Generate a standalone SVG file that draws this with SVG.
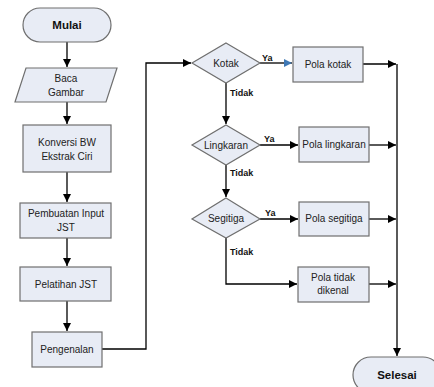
<svg xmlns="http://www.w3.org/2000/svg" width="434" height="387" viewBox="0 0 434 387">
<defs>
<marker id="ah" viewBox="0 0 10 10" refX="10" refY="5" markerWidth="9" markerHeight="8" markerUnits="userSpaceOnUse" orient="auto"><path d="M0,0 L10,5 L0,10 z" fill="#000"/></marker>
<marker id="ahb" viewBox="0 0 10 10" refX="10" refY="5" markerWidth="9" markerHeight="8" markerUnits="userSpaceOnUse" orient="auto"><path d="M0,0 L10,5 L0,10 z" fill="#3f78b5"/></marker>
<style>
.n{fill:#e8ecf5;stroke:#6f6f6f;stroke-width:1.2}
.t{font-family:"Liberation Sans",Arial,sans-serif;font-size:10px;fill:#222;text-anchor:middle}
.b{font-family:"Liberation Sans",Arial,sans-serif;font-weight:bold;font-size:11.5px;fill:#111;text-anchor:middle}
.l{font-family:"Liberation Sans",Arial,sans-serif;font-weight:bold;font-size:9px;fill:#111}
.c{fill:none;stroke:#000;stroke-width:1.3}
</style>
</defs>
<rect width="434" height="387" fill="#fff"/>
<g id="connectors">
<path class="c" d="M67,42 V67" marker-end="url(#ah)"/>
<path class="c" d="M67,102 V124" marker-end="url(#ah)"/>
<path class="c" d="M67,172 V202" marker-end="url(#ah)"/>
<path class="c" d="M67,238 V266" marker-end="url(#ah)"/>
<path class="c" d="M67,301 V331" marker-end="url(#ah)"/>
<path class="c" d="M102,349 H146 V63 H191" marker-end="url(#ah)"/>
<path class="c" d="M260,63 H292" marker-end="url(#ahb)"/>
<path class="c" d="M363,64 H396" marker-end="url(#ah)"/>
<path class="c" d="M226,83 V124" marker-end="url(#ah)"/>
<path class="c" d="M260,145 H298" marker-end="url(#ah)"/>
<path class="c" d="M369,145 H396" marker-end="url(#ah)"/>
<path class="c" d="M226,165 V197" marker-end="url(#ah)"/>
<path class="c" d="M260,219 H298" marker-end="url(#ah)"/>
<path class="c" d="M369,219 H396" marker-end="url(#ah)"/>
<path class="c" d="M226,238 V284 H297" marker-end="url(#ah)"/>
<path class="c" d="M369,284 H396" marker-end="url(#ah)"/>
<path class="c" d="M397,64 V356" marker-end="url(#ah)"/>
<text class="l" x="262" y="61">Ya</text>
<text class="l" x="230" y="96">Tidak</text>
<text class="l" x="264" y="142">Ya</text>
<text class="l" x="230" y="176">Tidak</text>
<text class="l" x="265" y="216">Ya</text>
<text class="l" x="230" y="255">Tidak</text>
</g>
<g id="mulai"><rect class="n" x="23" y="8" width="88" height="34" rx="17"/><text class="b" x="67" y="29">Mulai</text></g>
<g id="baca"><polygon class="n" points="26,68 117,68 106,102 15,102"/><text class="t" x="66" y="82">Baca</text><text class="t" x="66" y="96">Gambar</text></g>
<g id="konversi"><rect class="n" x="23" y="125" width="88" height="47"/><text class="t" x="67" y="146">Konversi BW</text><text class="t" x="67" y="160">Ekstrak Ciri</text></g>
<g id="pembuatan"><rect class="n" x="20" y="203" width="91" height="35"/><text class="t" x="66" y="217">Pembuatan Input</text><text class="t" x="66" y="231">JST</text></g>
<g id="pelatihan"><rect class="n" x="20" y="267" width="91" height="34"/><text class="t" x="66" y="288">Pelatihan JST</text></g>
<g id="pengenalan"><rect class="n" x="32" y="332" width="70" height="35"/><text class="t" x="67" y="353">Pengenalan</text></g>
<g id="kotak"><polygon class="n" points="226,43 260,63 226,83 192,63"/><text class="t" x="226" y="67">Kotak</text></g>
<g id="lingkaran"><polygon class="n" points="226,125 260,145 226,165 192,145"/><text class="t" x="226" y="149">Lingkaran</text></g>
<g id="segitiga"><polygon class="n" points="226,198 260,219 226,238 192,219"/><text class="t" x="226" y="222">Segitiga</text></g>
<g id="polakotak"><rect class="n" x="293" y="47" width="70" height="35"/><text class="t" x="328" y="68">Pola kotak</text></g>
<g id="polalingkaran"><rect class="n" x="299" y="127" width="70" height="35"/><text class="t" x="334" y="148">Pola lingkaran</text></g>
<g id="polasegitiga"><rect class="n" x="299" y="202" width="70" height="34"/><text class="t" x="334" y="222">Pola segitiga</text></g>
<g id="polatidak"><rect class="n" x="298" y="267" width="71" height="35"/><text class="t" x="333" y="281">Pola tidak</text><text class="t" x="333" y="294">dikenal</text></g>
<g id="selesai"><rect class="n" x="353" y="357" width="88" height="36" rx="18"/><text class="b" x="397" y="379">Selesai</text></g>
</svg>
